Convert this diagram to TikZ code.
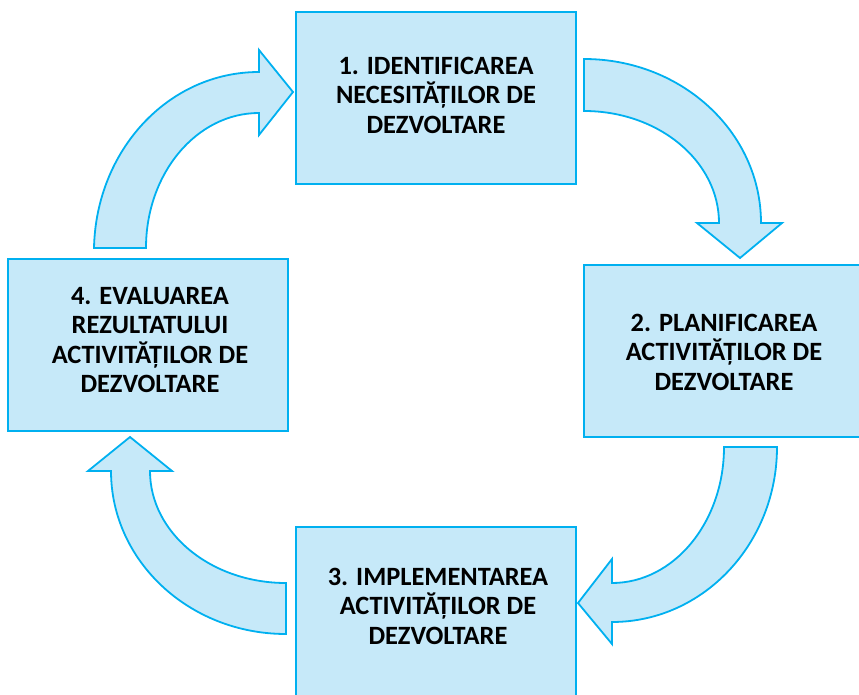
\documentclass[tikz,border=0pt]{standalone}
\usepackage{fontspec}
\setmainfont{Carlito}
\definecolor{boxfill}{HTML}{C6E9F9}
\definecolor{boxline}{HTML}{00B0F0}
\begin{document}
\begin{tikzpicture}[x=1pt,y=-1pt,
  stagebox/.style={draw=boxline,fill=boxfill,line width=2pt,minimum width=280pt,minimum height=172pt,inner sep=0pt},
  stagetext/.style={align=center,font=\fontsize{26.4}{29.5}\selectfont\bfseries,text=black,inner sep=0pt},
  blockarrow/.style={draw=boxline,fill=boxfill,line width=1.8pt,line join=miter}]
\useasboundingbox (0,0) rectangle (859,695);
\clip (0,0) rectangle (859,695);
% boxes
\node[stagebox] (b1) at (436,98) {};
\node[stagebox] (b2) at (724,351) {};
\node[stagebox] (b3) at (436,613) {};
\node[stagebox] (b4) at (148,345) {};
\node[stagetext] (t1) at (436,95) {1. IDENTIFICAREA\\NECESITĂȚILOR DE\\DEZVOLTARE};
\node[stagetext] (t2) at (724,352) {2. PLANIFICAREA\\ACTIVITĂȚILOR DE\\DEZVOLTARE};
\node[stagetext] (t3) at (438,606) {3. IMPLEMENTAREA\\ACTIVITĂȚILOR DE\\DEZVOLTARE};
\node[stagetext] (t4) at (150,340) {4. EVALUAREA\\REZULTATULUI\\ACTIVITĂȚILOR DE\\DEZVOLTARE};
% arrow 4 -> 1
\draw[blockarrow] (94,248) .. controls (96,150.8) and (167.9,72) .. (259,72)
  -- (259,50) -- (293,92) -- (259,135) -- (259,113)
  .. controls (196.6,113) and (146,173.4) .. (146,248) -- cycle;
% arrow 1 -> 2
\draw[blockarrow] (584,59) .. controls (681.8,59) and (761,132.4) .. (761,223)
  -- (782,223) -- (740,258) -- (697,223) -- (719,223)
  .. controls (719,161.1) and (658.6,111) .. (584,111) -- cycle;
% arrow 2 -> 3
\draw[blockarrow] (777,447) .. controls (777,543.7) and (703.1,622) .. (612,622)
  -- (612,644) -- (578,603) -- (612,559) -- (612,583)
  .. controls (673.9,583) and (724,522.1) .. (724,447) -- cycle;
% arrow 3 -> 4
\draw[blockarrow] (286,634) .. controls (189.3,634) and (111,561) .. (111,471)
  -- (88,471) -- (130,437) -- (172,471) -- (150,471)
  .. controls (150,532.9) and (210.9,583) .. (286,583) -- cycle;
\end{tikzpicture}
\end{document}
